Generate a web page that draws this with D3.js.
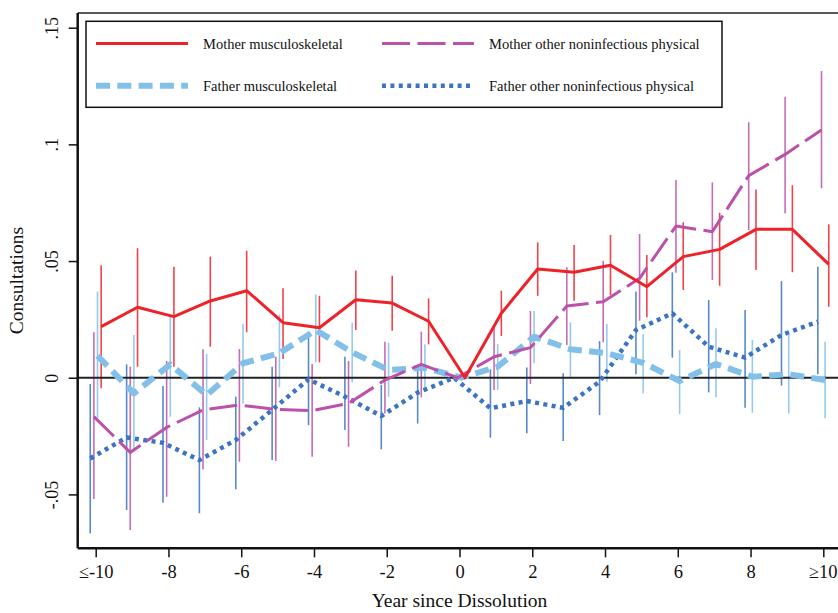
<!DOCTYPE html>
<html>
<head>
<meta charset="utf-8">
<script src="https://cdn.jsdelivr.net/npm/d3@7"></script>
<style>
  body { margin: 0; background: #fff; }
  svg { display: block; font-family: "Liberation Serif", "Times New Roman", serif; }
</style>
</head>
<body>
<div id="chart"></div>
<script>
// data
const years = [-10, -9, -8, -7, -6, -5, -4, -3, -2, -1, 0, 1, 2, 3, 4, 5, 6, 7, 8, 9, 10]
const xTicks = [-10, -8, -6, -4, -2, 0, 2, 4, 6, 8, 10]
const xTickLabels = ["≤-10", "-8", "-6", "-4", "-2", "0", "2", "4", "6", "8", "≥10"]
const yTicks = [-0.05, 0, 0.05, 0.1, 0.15]
const yTickLabels = ["-.05", "0", ".05", ".1", ".15"]

const motherMusc   = [0.0219, 0.0302, 0.0262, 0.0329, 0.0373, 0.0236, 0.0214, 0.0334, 0.032, 0.0242, 0, 0.0276, 0.0466, 0.0452, 0.0482, 0.039, 0.0519, 0.055, 0.0636, 0.0636, 0.0486]
const motherMuscHi = [0.0482, 0.0555, 0.0476, 0.0519, 0.0544, 0.0383, 0.0351, 0.046, 0.0437, 0.034, null, 0.0373, 0.058, 0.0569, 0.0612, 0.0526, 0.0666, 0.0707, 0.0807, 0.0825, 0.0657]
const motherMuscLo = [-0.0045, 0.0047, 0.0047, 0.0133, 0.0195, 0.008, 0.0066, 0.0204, 0.0201, 0.0143, null, 0.0179, 0.0351, 0.033, 0.0354, 0.0259, 0.0376, 0.0394, 0.0462, 0.0452, 0.0304]

const motherOther   = [-0.0167, -0.032, -0.0213, -0.0138, -0.0117, -0.0136, -0.0141, -0.011, -0.001, 0.0057, 0, 0.009, 0.0129, 0.0307, 0.0326, 0.0426, 0.065, 0.0626, 0.0866, 0.0957, 0.1062]
const motherOtherHi = [0.0195, 0.0047, 0.0072, 0.0122, 0.0123, 0.009, 0.0059, 0.0072, 0.0154, 0.0197, null, 0.0219, 0.0286, 0.0473, 0.0501, 0.0616, 0.0847, 0.0837, 0.1095, 0.1204, 0.1314]
const motherOtherLo = [-0.052, -0.0653, -0.051, -0.0393, -0.036, -0.0356, -0.0339, -0.0296, -0.0153, -0.0084, null, -0.0053, -0.0027, 0.014, 0.0152, 0.0244, 0.045, 0.0419, 0.0633, 0.0705, 0.0812]

const fatherMusc   = [0.0094, -0.0067, 0.0057, -0.0074, 0.0062, 0.0105, 0.0204, 0.0109, 0.0033, 0.0043, 0, 0.0047, 0.0176, 0.0122, 0.0105, 0.0064, -0.0014, 0.0059, 0.0004, 0.0015, -0.001]
const fatherMuscHi = [0.0369, 0.0183, 0.0269, 0.0102, 0.023, 0.0269, 0.0357, 0.0236, 0.015, 0.0143, null, 0.0144, 0.0286, 0.0237, 0.023, 0.0187, 0.0119, 0.0212, 0.0162, 0.0183, 0.0154]
const fatherMuscLo = [-0.0174, -0.031, -0.0167, -0.0267, -0.011, -0.0041, 0.0066, -0.0021, -0.0081, -0.005, null, -0.0053, 0.0062, 0.0004, -0.0017, -0.0067, -0.0156, -0.0084, -0.015, -0.0153, -0.0174]

const fatherOther   = [-0.0346, -0.0256, -0.0279, -0.0353, -0.0267, -0.0138, -0.0007, -0.0081, -0.0164, -0.0064, 0, -0.0131, -0.01, -0.0129, -0.0017, 0.0204, 0.0276, 0.0133, 0.0086, 0.0183, 0.024]
const fatherOtherHi = [-0.0027, 0.0057, -0.0036, -0.0127, -0.0081, 0.0047, 0.0183, 0.009, -0.0031, 0.0051, null, 0.0036, 0.0044, 0.0019, 0.0157, 0.0369, 0.0452, 0.0333, 0.029, 0.0414, 0.0476]
const fatherOtherLo = [-0.0667, -0.0567, -0.0536, -0.0581, -0.0478, -0.0353, -0.0203, -0.0224, -0.0307, -0.0196, null, -0.0257, -0.0238, -0.0271, -0.016, 0.0015, 0.0086, -0.0063, -0.0129, -0.0034, 0.0015]

const width = 838, height = 613
const plotLeft = 77.7, plotTop = 13, plotBottom = 548.3

const x = d3.scaleLinear().domain([-10, 10]).range([95.7, 823.3])
const y = d3.scaleLinear().domain([-0.0731, 0.1563]).range([plotBottom, plotTop])

// draw order = back to front
const series = [
    {name: "Father other noninfectious physical", v: fatherOther, hi: fatherOtherHi, lo: fatherOtherLo,
     color: "#3b74c2", width: 4.5, dash: "4,4.4", offset: -0.15, legend: [1, 1]},
    {name: "Father musculoskeletal", v: fatherMusc, hi: fatherMuscHi, lo: fatherMuscLo,
     color: "#82c0ea", width: 6, dash: "14,7.3", offset: 0.05, legend: [0, 1]},
    {name: "Mother other noninfectious physical", v: motherOther, hi: motherOtherHi, lo: motherOtherLo,
     color: "#bb52a9", width: 3, dash: "28,7.5", offset: -0.05, legend: [1, 0]},
    {name: "Mother musculoskeletal", v: motherMusc, hi: motherMuscHi, lo: motherMuscLo,
     color: "#ee2229", width: 3, dash: null, offset: 0.15, legend: [0, 0]}
]

const svg = d3.select("#chart").append("svg")
    .attr("width", width)
    .attr("height", height)

// error bars
series.forEach(s => {
    svg.append("g")
        .selectAll("line")
        .data(years.map((yr, i) => ({yr, hi: s.hi[i], lo: s.lo[i]})).filter(d => d.hi != null))
        .join("line")
        .attr("x1", d => x(d.yr + s.offset))
        .attr("x2", d => x(d.yr + s.offset))
        .attr("y1", d => y(d.hi))
        .attr("y2", d => y(d.lo))
        .attr("stroke", s.color)
        .attr("stroke-opacity", 0.85)
        .attr("stroke-width", 1.6)
})

// zero line
svg.append("line")
    .attr("x1", plotLeft).attr("x2", width)
    .attr("y1", y(0)).attr("y2", y(0))
    .attr("stroke", "#222").attr("stroke-width", 2)

const line = d3.line()

series.forEach(s => {
    svg.append("path")
        .datum(years.map((yr, i) => [x(yr + s.offset), y(s.v[i])]))
        .attr("d", line)
        .attr("fill", "none")
        .attr("stroke", s.color)
        .attr("stroke-width", s.width)
        .attr("stroke-dasharray", s.dash)
        .attr("stroke-linejoin", "round")
})

// frame
svg.append("line")
    .attr("x1", plotLeft).attr("x2", width)
    .attr("y1", plotTop).attr("y2", plotTop)
    .attr("stroke", "#222").attr("stroke-width", 1.5)

const yAxis = svg.append("g")
    .attr("transform", `translate(${plotLeft},0)`)
    .call(d3.axisLeft(y).tickValues(yTicks).tickSize(9).tickSizeOuter(0)
        .tickFormat((d, i) => yTickLabels[i]))
yAxis.select(".domain").attr("stroke", "#111").attr("stroke-width", 2.5)
    .attr("d", `M0,${plotTop}V${plotBottom}`)
yAxis.selectAll(".tick line").attr("stroke", "#111").attr("stroke-width", 1.5)
yAxis.selectAll(".tick text")
    .attr("font-size", 18)
    .attr("fill", "#111")
    .attr("font-family", "Liberation Serif")
    .attr("text-anchor", "middle")
    .attr("transform", "rotate(-90)")
    .attr("x", 0).attr("y", -20).attr("dy", 0)

const xAxis = svg.append("g")
    .attr("transform", `translate(0,${plotBottom})`)
    .call(d3.axisBottom(x).tickValues(xTicks).tickSize(9).tickSizeOuter(0)
        .tickFormat((d, i) => xTickLabels[i]))
xAxis.select(".domain").attr("stroke", "#111").attr("stroke-width", 2.5)
    .attr("d", `M${plotLeft},0H${width}`)
xAxis.selectAll(".tick line").attr("stroke", "#111").attr("stroke-width", 1.5)
xAxis.selectAll(".tick text")
    .attr("font-size", 18.5)
    .attr("fill", "#111")
    .attr("font-family", "Liberation Serif")
    .attr("y", 29.5).attr("dy", 0)
    .attr("dx", d => d === 10 ? 0 : 0)
    .attr("text-anchor", d => d === 10 ? "end" : "middle")
    .attr("x", d => d === 10 ? width - 823.3 - 1 : 0)

svg.append("text")
    .attr("x", x(0)).attr("y", 607)
    .attr("text-anchor", "middle")
    .attr("font-size", 19.5)
    .attr("fill", "#111")
    .text("Year since Dissolution")

svg.append("text")
    .attr("transform", `translate(23,${(plotTop + plotBottom) / 2}) rotate(-90)`)
    .attr("text-anchor", "middle")
    .attr("font-size", 19.5)
    .attr("fill", "#111")
    .text("Consultations")

// legend
const legend = svg.append("g")
legend.append("rect")
    .attr("x", 86).attr("y", 21.3)
    .attr("width", 636).attr("height", 86)
    .attr("fill", "#fff")
    .attr("stroke", "#111").attr("stroke-width", 1.5)

const colX = [96, 382], rowY = [43.5, 85.7]
series.forEach(s => {
    const cx = colX[s.legend[0]], cy = rowY[s.legend[1]]
    legend.append("line")
        .attr("x1", cx).attr("x2", cx + 92)
        .attr("y1", cy).attr("y2", cy)
        .attr("stroke", s.color)
        .attr("stroke-width", s.width)
        .attr("stroke-dasharray", s.dash)
    legend.append("text")
        .attr("x", cx + 107).attr("y", cy + 5.3)
        .attr("font-size", 14.5)
        .attr("fill", "#111")
        .text(s.name)
})
</script>
</body>
</html>
